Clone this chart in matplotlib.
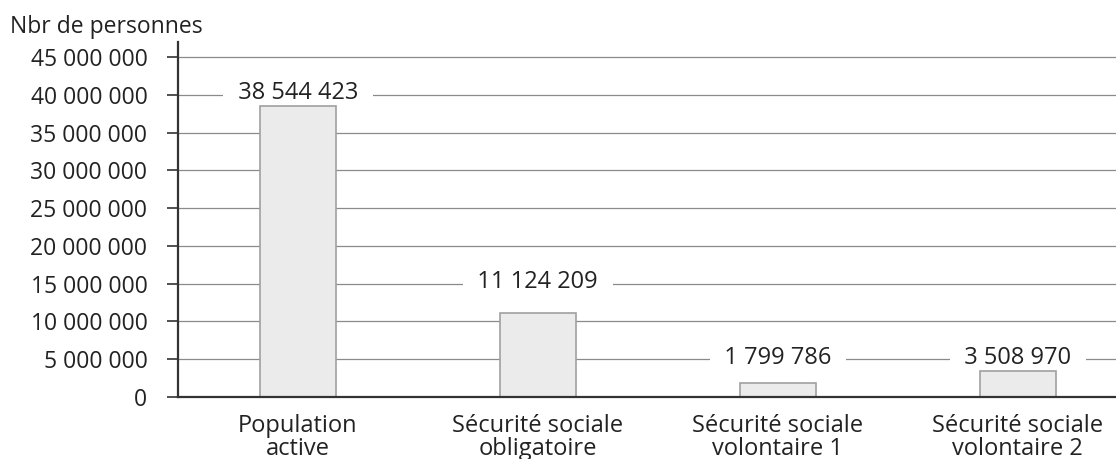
import math
import matplotlib
matplotlib.use("Agg")
import matplotlib.pyplot as plt
from matplotlib.ticker import FuncFormatter

categories = ["Population\nactive", "Sécurité sociale\nobligatoire",
              "Sécurité sociale\nvolontaire 1", "Sécurité sociale\nvolontaire 2"]
values = [38544423, 11124209, 1799786, 3508970]
y_ticks = [0, 5000000, 10000000, 15000000, 20000000, 25000000,
           30000000, 35000000, 40000000, 45000000]
y_step = 5000000
y_label = "Nbr de personnes"

plt.rcParams['font.family'] = ['Open Sans', 'DejaVu Sans']
text_color = "#222222"

def fmt(v, pos=None):
    return f"{int(v):,}".replace(",", " ")

fig = plt.figure(figsize=(11.16, 4.59), dpi=100)
ax = fig.add_axes([0.1595, 0.135, 1.0 - 0.1595, 0.9085 - 0.135])

x = list(range(len(categories)))
ax.bar(x, values, width=0.317, color="#ecebeb", edgecolor="#a0a0a0",
       linewidth=1.2, zorder=7)

ax.set_xlim(-0.5, 3.41)
ax.set_ylim(0, 47000000)
ax.set_yticks(y_ticks)
ax.yaxis.set_major_formatter(FuncFormatter(fmt))
ax.set_xticks(x)
ax.set_xticklabels(categories, fontsize=17, color=text_color, linespacing=0.95)

ax.yaxis.grid(True, color="#8a8a8a", linewidth=0.9, zorder=0)
ax.set_axisbelow(True)
for s in ["top", "right"]:
    ax.spines[s].set_visible(False)
for s in ["left", "bottom"]:
    ax.spines[s].set_color("#333333")
    ax.spines[s].set_linewidth(1.6)
    ax.spines[s].set_zorder(8)

ax.tick_params(axis="y", length=8, width=1.2, color="#333333",
               labelsize=16.5, labelcolor=text_color, pad=14)
ax.tick_params(axis="x", length=0, pad=12)

# value labels sit on the gridline just above each bar
for xi, v in zip(x, values):
    label_y = math.ceil(v / y_step) * y_step
    ax.annotate("  " + fmt(v) + "  ", (xi, label_y), xytext=(0, 1),
                textcoords="offset points",
                ha="center", va="center", fontsize=17, color=text_color,
                zorder=6,
                bbox=dict(boxstyle="square,pad=0.1", fc="white", ec="none"))

fig.text(10 / 1116, 1 - 27 / 459, y_label, fontsize=16.5, color=text_color,
         ha="left", va="center")

fig.savefig("out.png", dpi=100)
